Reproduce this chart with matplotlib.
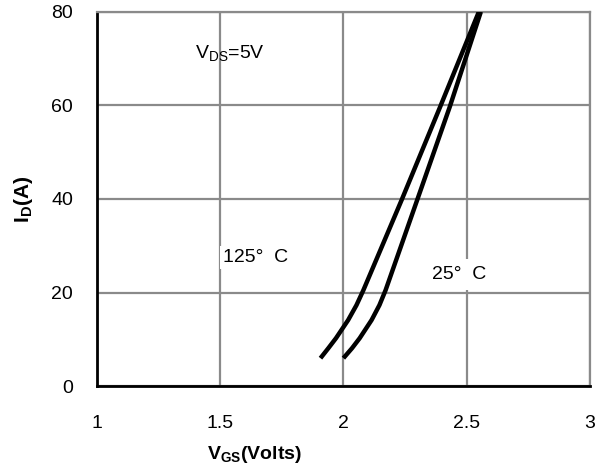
import matplotlib.pyplot as plt

plt.rcParams['font.family'] = ['Liberation Sans', 'DejaVu Sans']

# transfer characteristics
id_pts = [5.99, 8.13, 10.27, 14.12, 17.33, 20.53, 39.79, 59.68, 80]
vgs_125 = [1.907, 1.939, 1.970, 2.019, 2.053, 2.081, 2.236, 2.392, 2.549]
vgs_25 = [2.000, 2.035, 2.066, 2.114, 2.146, 2.171, 2.299, 2.431, 2.557]

x_ticks = [1, 1.5, 2, 2.5, 3]
x_labels = ['1', '1.5', '2', '2.5', '3']
y_ticks = [0, 20, 40, 60, 80]

fig = plt.figure(figsize=(6.16, 4.71), dpi=100)
ax = fig.add_axes([0.157, 0.180, 0.801, 0.795])

for vv in [vgs_125, vgs_25]:
    ax.plot(vv, id_pts, color='black', lw=3.2, solid_capstyle='butt',
            solid_joinstyle='round', zorder=3)

ax.set_xlim(1, 3)
ax.set_ylim(0, 80)
ax.set_xticks(x_ticks)
ax.set_xticklabels(x_labels)
ax.set_yticks(y_ticks)
ax.grid(True, color='#8a8a8a', lw=1.6)
ax.set_axisbelow(True)
ax.tick_params(length=0, labelsize=14)
ax.tick_params(axis='x', pad=21)
ax.tick_params(axis='y', pad=17)

for side in ['top', 'right']:
    ax.spines[side].set_color('#8a8a8a')
    ax.spines[side].set_linewidth(1.6)
ax.spines['left'].set_linewidth(2)
ax.spines['bottom'].set_linewidth(2)

ax.text(1.40, 71, r'V$_{\mathregular{DS}}$=5V', fontsize=14, va='center')
ax.text(1.51, 27.5, '125°  C', fontsize=14, va='center',
        bbox=dict(facecolor='white', edgecolor='none', pad=2))
ax.text(2.36, 23.8, '25°  C', fontsize=14, va='center',
        bbox=dict(facecolor='white', edgecolor='none', pad=5))

ax.set_xlabel(r'V$_{\mathregular{GS}}$(Volts)', fontsize=14, fontweight='bold')
ax.xaxis.set_label_coords(0.32, -0.155)
ax.set_ylabel(r'I$_{\mathregular{D}}$(A)', fontsize=15, fontweight='bold')
ax.yaxis.set_label_coords(-0.126, 0.5)

fig.savefig('out.png', dpi=100)
